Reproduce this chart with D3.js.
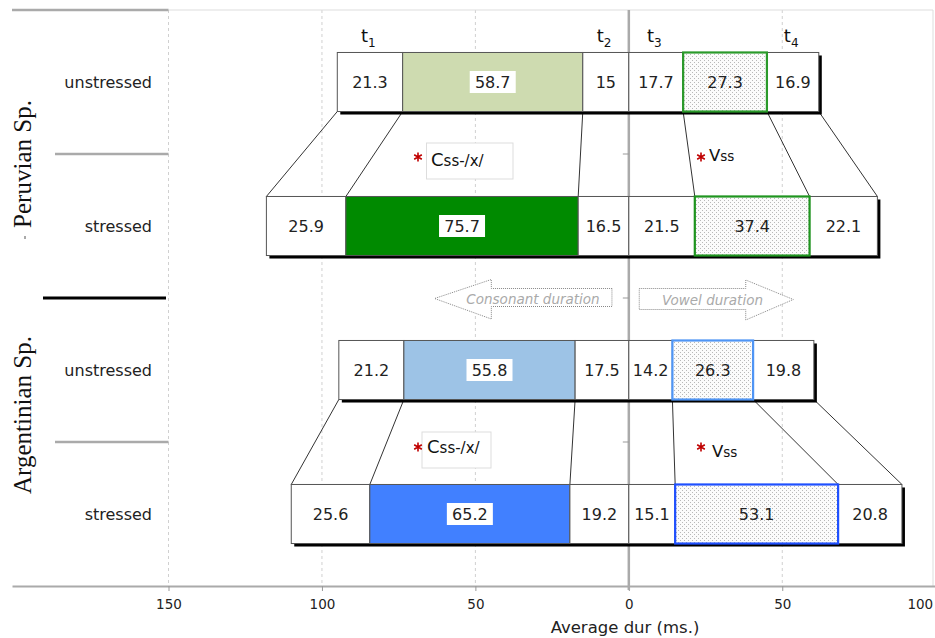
<!DOCTYPE html>
<html><head><meta charset="utf-8">
<script src="https://cdn.jsdelivr.net/npm/d3@7"></script>
<style>body{margin:0;background:#fff}svg{display:block}</style>
</head><body><svg id="c" width="935" height="638"></svg>
<script>
// ---- data ----
const rows = ["P-unstressed","P-stressed","A-unstressed","A-stressed"];
const rowLabels = ["unstressed","stressed","unstressed","stressed"];
const groupLabels = ["Peruvian Sp.","Argentinian Sp."];
const onsetC  = [21.3, 25.9, 21.2, 25.6];
const consC   = [58.7, 75.7, 55.8, 65.2];
const offsetC = [15, 16.5, 17.5, 19.2];
const onsetV  = [17.7, 21.5, 14.2, 15.1];
const vowelV  = [27.3, 37.4, 26.3, 53.1];
const offsetV = [16.9, 22.1, 19.8, 20.8];
const xTickValues = [-150, -100, -50, 0, 50, 100];
const timeSubs = ["1","2","3","4"];
const xTitle = "Average dur (ms.)";
const consLabel = ["C","ss-/x/"];
const vowLabel = ["V","ss"];
const arrowLabels = ["Consonant duration","Vowel duration"];

// ---- styles ----
const consFill = ["#cedbb0","#008a00","#9dc3e6","#4180ff"];
const vowelStroke = ["#2a9a2a","#1f951f","#4f95f5","#1f50ff"];
const SANS = "DejaVu Sans, Verdana, sans-serif";
const SERIF = "Liberation Serif, Times New Roman, serif";

const svg = d3.select("#c");
const yTop = 10, yBot = 586;
const x = d3.scaleLinear().domain([-201, 100]).range([12, 935.7]);
const y = d3.scaleBand().domain(rows).range([yTop, yBot]).paddingInner(0.59).paddingOuter(0.295);
const bh = y.bandwidth(), step = y.step();

const defs = svg.append("defs");
const pat = defs.append("pattern").attr("id","stip").attr("width",4).attr("height",4).attr("patternUnits","userSpaceOnUse");
pat.append("rect").attr("width",4).attr("height",4).attr("fill","#fbfbfb");
pat.append("rect").attr("x",0).attr("y",0).attr("width",1).attr("height",1).attr("fill","#b8b8b8");
pat.append("rect").attr("x",2).attr("y",2).attr("width",1).attr("height",1).attr("fill","#b8b8b8");

// grid
svg.append("g").selectAll("line").data(xTickValues.filter(d => d !== 0 && d !== 100)).join("line")
  .attr("x1", d => x(d)).attr("x2", d => x(d)).attr("y1", yTop).attr("y2", yBot)
  .attr("stroke", "#d0d0d0").attr("stroke-dasharray", "3,3");
svg.append("line").attr("x1", x(-150)).attr("x2", 933).attr("y1", yTop).attr("y2", yTop).attr("stroke", "#ddd");
svg.append("line").attr("x1", 933).attr("x2", 933).attr("y1", yTop).attr("y2", yBot).attr("stroke", "#ddd");

// axis
const ax = svg.append("g").attr("transform", `translate(0,${yBot})`)
  .call(d3.axisBottom(x).tickValues(xTickValues).tickFormat(d => Math.abs(d)).tickSize(5).tickSizeOuter(0).tickPadding(8));
ax.select(".domain").attr("stroke", "#aaa").attr("stroke-width", 2);
ax.selectAll(".tick line").attr("stroke", "#999");
ax.selectAll("text").attr("font-family", SANS).attr("font-size", 13.5).attr("fill", "#222");
ax.selectAll(".tick").filter(d => d === 100).select("text").attr("text-anchor", "end").attr("dx", -3);
svg.append("text").attr("x", 625).attr("y", 633).attr("text-anchor", "middle")
  .attr("font-family", SANS).attr("font-size", 16.5).attr("fill", "#222").text(xTitle);

// zero line
svg.append("line").attr("x1", x(0)).attr("x2", x(0)).attr("y1", yTop).attr("y2", yBot + 4)
  .attr("stroke", "#aaa").attr("stroke-width", 2.5);

// row separators (left)
const bounds = rows.slice(0, -1).map(r => y(r) + bh + (step - bh) / 2);
svg.append("line").attr("x1", 12).attr("x2", x(-150)).attr("y1", yTop).attr("y2", yTop).attr("stroke", "#aaa").attr("stroke-width", 2.5);
bounds.forEach((b, i) => {
  const mid = i === 1;
  svg.append("line").attr("x1", mid ? 43 : 55).attr("x2", mid ? 166 : x(-150)).attr("y1", b).attr("y2", b)
    .attr("stroke", mid ? "#000" : "#aaa").attr("stroke-width", mid ? 3 : 2.5);
  svg.append("line").attr("x1", x(0) - 6).attr("x2", x(0)).attr("y1", b).attr("y2", b).attr("stroke", "#999");
});

// row labels
svg.append("g").selectAll("text").data(rows).join("text")
  .attr("x", 152).attr("y", d => y(d) + bh / 2 + 6).attr("text-anchor", "end")
  .attr("font-family", SANS).attr("font-size", 16).attr("fill", "#222")
  .text((d, i) => rowLabels[i]);

// group labels
const gY = [164, 415];
groupLabels.forEach((g, i) => {
  svg.append("text").attr("transform", `translate(31,${gY[i]}) rotate(-90)`).attr("text-anchor", "middle")
    .attr("font-family", SERIF).attr("font-size", 25).attr("fill", "#111").text(g);
});
svg.append("line").attr("x1", 25).attr("x2", 25).attr("y1", 236).attr("y2", 239).attr("stroke", "#555");

// segments
function segs(i) {
  const a = -(offsetC[i] + consC[i] + onsetC[i]), b = -(offsetC[i] + consC[i]), c = -offsetC[i];
  const d = onsetV[i], e = onsetV[i] + vowelV[i], f = e + offsetV[i];
  return [
    {x0: a, x1: b, v: onsetC[i], t: "w"},
    {x0: b, x1: c, v: consC[i], t: "c"},
    {x0: c, x1: 0, v: offsetC[i], t: "w"},
    {x0: 0, x1: d, v: onsetV[i], t: "w"},
    {x0: d, x1: e, v: vowelV[i], t: "v"},
    {x0: e, x1: f, v: offsetV[i], t: "w"}
  ];
}
const bnd = i => { const s = segs(i); return [s[0].x0, s[1].x0, s[2].x0, s[4].x0, s[5].x0, s[5].x1]; };

// connectors
[[0,1],[2,3]].forEach(([u, s]) => {
  const bu = bnd(u), bs = bnd(s);
  svg.append("g").selectAll("line").data(bu).join("line")
    .attr("x1", d => x(d)).attr("y1", y(rows[u]) + bh)
    .attr("x2", (d, k) => x(bs[k])).attr("y2", y(rows[s]))
    .attr("stroke", "#333").attr("stroke-width", 1);
});

rows.forEach((r, i) => {
  const s = segs(i), y0 = y(r);
  const g = svg.append("g");
  g.append("rect").attr("x", x(s[0].x0) + 3).attr("y", y0 + 3)
    .attr("width", x(s[5].x1) - x(s[0].x0)).attr("height", bh).attr("fill", "#000");
  g.selectAll("rect.seg").data(s).join("rect").attr("class", "seg")
    .attr("x", d => x(d.x0)).attr("y", y0).attr("width", d => x(d.x1) - x(d.x0)).attr("height", bh)
    .attr("fill", d => d.t === "c" ? consFill[i] : d.t === "v" ? "url(#stip)" : "#fff")
    .attr("stroke", "#555").attr("stroke-width", 1);
  const v = s[4];
  g.append("rect").attr("x", x(v.x0)).attr("y", y0).attr("width", x(v.x1) - x(v.x0)).attr("height", bh)
    .attr("fill", "none").attr("stroke", vowelStroke[i]).attr("stroke-width", 2.2);
  const c = s[1], cx = (x(c.x0) + x(c.x1)) / 2;
  g.append("rect").attr("x", cx - 23).attr("y", y0 + bh / 2 - 11).attr("width", 46).attr("height", 22).attr("fill", "#fff");
  g.selectAll("text").data(s).join("text")
    .attr("x", d => (x(d.x0) + x(d.x1)) / 2).attr("y", y0 + bh / 2 + 6).attr("text-anchor", "middle")
    .attr("font-family", SANS).attr("font-size", 16).attr("fill", "#222").text(d => d.v);
});

// t labels
const s0 = segs(0), tIdx = [0, 2, 3, 5];
tIdx.forEach((k, j) => {
  const t = svg.append("text").attr("x", (x(s0[k].x0) + x(s0[k].x1)) / 2 - 9).attr("y", 42)
    .attr("font-family", SANS).attr("font-size", 18).attr("fill", "#111");
  t.append("tspan").text("t");
  t.append("tspan").attr("font-size", 12).attr("dy", 5).text(timeSubs[j]);
});

// annotations
const star = d3.symbol(d3.symbolAsterisk, 55);
const cAnn = [{bx: 426.5, by: 143, bw: 86.5, bh: 36, sx: 418, sy: 157, tx: 431, ty: 166},
              {bx: 422, by: 432, bw: 69, bh: 36, sx: 418, sy: 447, tx: 427, ty: 453}];
cAnn.forEach(a => {
  svg.append("rect").attr("x", a.bx).attr("y", a.by).attr("width", a.bw).attr("height", a.bh)
    .attr("fill", "#fff").attr("stroke", "#ddd");
  svg.append("path").attr("d", star).attr("transform", `translate(${a.sx},${a.sy})`).attr("stroke", "#c00000").attr("stroke-width", 1.6);
  const t = svg.append("text").attr("x", a.tx).attr("y", a.ty).attr("font-family", SANS).attr("fill", "#111");
  t.append("tspan").attr("font-size", 18).text(consLabel[0]);
  t.append("tspan").attr("font-size", 15).text(consLabel[1]);
});
const vAnn = [{sx: 701, sy: 157, tx: 709, ty: 161}, {sx: 701, sy: 447, tx: 712, ty: 457}];
vAnn.forEach(a => {
  svg.append("path").attr("d", star).attr("transform", `translate(${a.sx},${a.sy})`).attr("stroke", "#c00000").attr("stroke-width", 1.6);
  const t = svg.append("text").attr("x", a.tx).attr("y", a.ty).attr("font-family", SANS).attr("fill", "#111");
  t.append("tspan").attr("font-size", 16.5).text(vowLabel[0]);
  t.append("tspan").attr("font-size", 13.5).text(vowLabel[1]);
});

// arrows
const ay = 298.5;
const cArrow = [[x(-5.5), 288.5], [x(-44.8), 288.5], [x(-44.8), 279.5], [x(-63.3), ay], [x(-44.8), 319], [x(-44.8), 306.5], [x(-5.5), 306.5]];
const vArrow = [[x(3.4), 288.5], [x(38.1), 288.5], [x(38.1), 280], [x(53.6), 299.5], [x(38.1), 320], [x(38.1), 309.5], [x(3.4), 309.5]];
[cArrow, vArrow].forEach(p => {
  svg.append("path").attr("d", d3.line()(p) + "Z").attr("fill", "#fff")
    .attr("stroke", "#888").attr("stroke-width", 1).attr("stroke-dasharray", "1,1");
});
svg.append("text").attr("x", 533).attr("y", 303.5).attr("text-anchor", "middle").attr("font-family", SANS)
  .attr("font-style", "italic").attr("font-size", 13.5).attr("fill", "#aaa").text(arrowLabels[0]);
svg.append("text").attr("x", 712.5).attr("y", 304.5).attr("text-anchor", "middle").attr("font-family", SANS)
  .attr("font-style", "italic").attr("font-size", 13.5).attr("fill", "#aaa").text(arrowLabels[1]);
</script></body></html>
